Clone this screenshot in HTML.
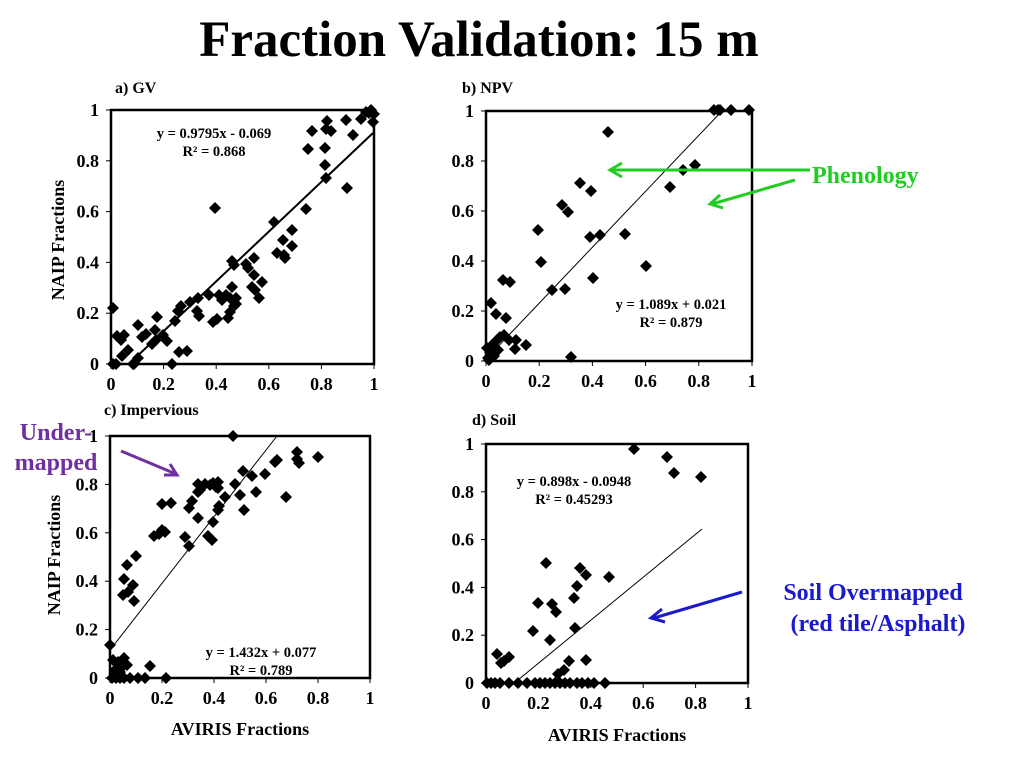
<!DOCTYPE html>
<html><head><meta charset="utf-8"><style>
html,body{margin:0;padding:0;background:#fff;}
svg{display:block;}
text{font-family:"Liberation Serif",serif;font-weight:bold;}
</style></head><body>
<svg id="s" width="1024" height="768" viewBox="0 0 1024 768" xmlns="http://www.w3.org/2000/svg">
<text x="479" y="56" font-size="51" text-anchor="middle">Fraction Validation: 15 m</text>
<g font-size="16">
<text x="115" y="93">a) GV</text>
<text x="462" y="93">b) NPV</text>
<text x="104" y="415">c) Impervious</text>
<text x="472" y="425">d) Soil</text>
</g>
<g font-size="18">
<text transform="translate(64,240) rotate(-90)" text-anchor="middle">NAIP Fractions</text>
<text transform="translate(60,555) rotate(-90)" text-anchor="middle">NAIP Fractions</text>
<text x="240" y="735" text-anchor="middle">AVIRIS Fractions</text>
<text x="617" y="741" text-anchor="middle">AVIRIS Fractions</text>
</g>
<g id="axes" fill="none" stroke="#000"></g>
<g id="pts"></g>
<g font-size="14.5" text-anchor="middle">
<text x="214" y="138">y = 0.9795x - 0.069</text>
<text x="214" y="156">R² = 0.868</text>
<text x="671" y="309">y = 1.089x + 0.021</text>
<text x="671" y="327">R² = 0.879</text>
<text x="261" y="657">y = 1.432x + 0.077</text>
<text x="261" y="675">R² = 0.789</text>
<text x="574" y="486">y = 0.898x - 0.0948</text>
<text x="574" y="504">R² = 0.45293</text>
</g>
<g font-size="24">
<text x="812" y="183" fill="#22cc22">Phenology</text>
<text x="56" y="440" fill="#7030a0" text-anchor="middle">Under-</text>
<text x="56" y="470" fill="#7030a0" text-anchor="middle">mapped</text>
<text x="873" y="600" fill="#1a1acc" text-anchor="middle">Soil Overmapped</text>
<text x="878" y="631" fill="#1a1acc" text-anchor="middle">(red tile/Asphalt)</text>
</g>
<g stroke-width="3" fill="none">
<line x1="810" y1="170" x2="612" y2="170" stroke="#22cc22"/>
<polyline points="622,163 610,170 622,177" stroke="#22cc22"/>
<line x1="795" y1="180" x2="712" y2="204" stroke="#22cc22"/>
<polyline points="720,195 710,204 723,208" stroke="#22cc22"/>
<line x1="121" y1="451" x2="176" y2="474" stroke="#7030a0"/>
<polyline points="164,475 177,475 170,464" stroke="#7030a0"/>
<line x1="742" y1="592" x2="654" y2="618" stroke="#1a1acc"/>
<polyline points="662,609 651,618 665,622" stroke="#1a1acc"/>
</g>
</svg>
<script>
var NS="http://www.w3.org/2000/svg",ax=document.getElementById('axes'),pg=document.getElementById('pts');
function el(p,t,a,txt){var e=document.createElementNS(NS,t);for(var k in a)e.setAttribute(k,a[k]);if(txt!==undefined)e.textContent=txt;p.appendChild(e);return e;}
function panel(x0,x1,y0,y1,line,pts,xlab){
 el(ax,'rect',{x:x0,y:y0,width:x1-x0,height:y1-y0,'stroke-width':2.5});
 var labs=['0','0.2','0.4','0.6','0.8','1'];
 for(var i=0;i<=5;i++){
  var y=y1-(y1-y0)*i/5, x=x0+(x1-x0)*i/5;
  el(ax,'line',{x1:x0-5,y1:y,x2:x0,y2:y,'stroke-width':1});
  el(ax,'line',{x1:x,y1:y1,x2:x,y2:y1+5,'stroke-width':1});
  el(pg,'text',{x:x0-12,y:y+6,'font-size':18,'text-anchor':'end'},labs[i]);
  el(pg,'text',{x:x,y:y1+26,'font-size':18,'text-anchor':'middle'},labs[i]);
 }
 el(ax,'line',{x1:line[0],y1:line[1],x2:line[2],y2:line[3],'stroke-width':line[4]});
 for(var j=0;j<pts.length;j+=2){var px=pts[j],py=pts[j+1];
  el(pg,'polygon',{points:(px)+','+(py-6)+' '+(px+6)+','+py+' '+px+','+(py+6)+' '+(px-6)+','+py,fill:'#000'});}
}
panel(111,374,110,364,[131,362,373,133,2],[113,364,116,364,113,308,117,336,124,335,121,340,128,350,122,356,133,364,134,364,138,358,138,325,142,337,146,334,155,330,152,344,157,317,156,340,163,335,167,341,172,364,175,321,178,311,181,306,179,352,187,351,190,302,197,311,199,316,198,298,209,295,213,322,215,208,219,295,217,319,222,300,226,295,228,318,230,312,232,287,230,298,232,261,234,265,236,298,234,306,236,304,246,264,248,268,254,258,254,275,255,290,252,287,259,298,262,282,274,222,277,253,283,240,284,255,285,258,292,246,292,230,306,209,312,131,308,149,325,148,326,129,327,121,331,131,326,178,346,120,353,135,361,119,366,112,371,110,373,122,347,188,325,165,374,114,369,113]);
panel(486,752,111,361,[488,357,722,111,1],[488,358,490,352,487,348,492,345,497,340,500,337,504,335,509,340,516,340,515,349,526,345,491,303,496,314,506,318,503,280,510,282,541,262,538,230,562,205,568,212,580,183,591,191,590,237,600,235,608,132,593,278,552,290,565,289,571,357,625,234,646,266,670,187,683,170,695,165,714,110,718,110,720,110,731,110,749,110,489,360,494,356,498,350]);
panel(110,370,436,678,[110,650,277,436,1],[112,678,116,678,120,678,124,678,110,645,113,660,118,662,121,668,124,658,127,665,115,670,120,672,130,678,138,678,145,678,150,666,166,678,123,595,128,592,133,585,124,579,127,565,136,556,134,601,154,536,159,534,162,530,165,532,162,504,171,503,185,537,189,546,189,508,192,501,198,484,198,492,200,490,205,484,210,485,213,483,218,482,216,487,198,518,213,522,208,536,212,540,218,510,219,506,233,436,235,484,240,495,243,471,252,476,256,492,265,474,275,462,277,460,297,452,299,463,297,459,286,497,318,457,244,510,225,497,218,488]);
panel(486,748,444,683,[518,680,702,529,1],[487,683,491,683,495,683,500,683,509,683,518,683,527,683,535,683,540,683,545,683,550,683,555,683,560,683,565,683,570,683,577,683,582,683,588,683,594,683,605,683,497,654,501,663,504,661,509,657,533,631,538,603,546,563,552,604,550,640,556,612,558,674,564,670,569,661,574,598,577,586,575,628,580,568,586,575,586,660,609,577,634,449,667,457,674,473,701,477]);
</script>
</body></html>
